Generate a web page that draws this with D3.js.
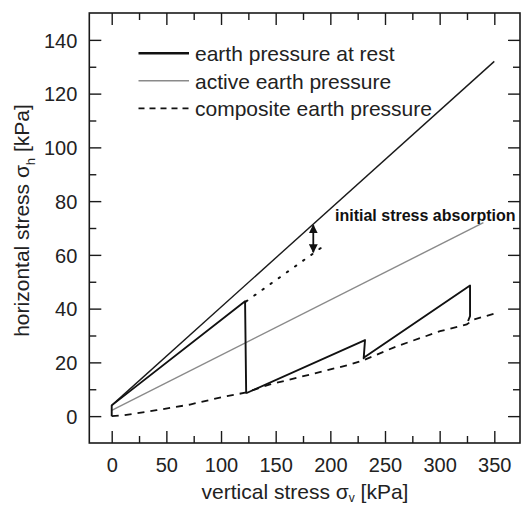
<!doctype html>
<html>
<head>
<meta charset="utf-8">
<script src="https://d3js.org/d3.v7.min.js"></script>
<style>
  body { margin: 0; background: #fff; }
  svg { display: block; font-family: "Liberation Sans", Arial, sans-serif; }
  .frame { fill: none; stroke: #1a1a1a; stroke-width: 1.6px; }
  .axis path { display: none; }
  .axis line { stroke: #1a1a1a; stroke-width: 1.4px; }
  .axis text { font-size: 20px; fill: #222; font-family: "Liberation Sans", Arial, sans-serif; }
</style>
</head>
<body>
<svg width="521" height="506"></svg>
<script>
// tick values
var xMajor = [0, 50, 100, 150, 200, 250, 300, 350],
    xMinor = [25, 75, 125, 175, 225, 275, 325],
    yMajor = [0, 20, 40, 60, 80, 100, 120, 140],
    yMinor = [10, 30, 50, 70, 90, 110, 130];

// earth pressure at rest (K0 line)
var restV = [0, 350],
    restH = [4, 132];

// active earth pressure
var activeV = [0, 340],
    activeH = [2.1, 72];

// measured path: loading / unloading steps
var stepV = [0, 0, 122, 123, 124, 231.7, 230.5, 230.5, 327.8, 327.8, 326],
    stepH = [0, 4, 42.7, 8.7, 8.7, 28.3, 21.5, 21.7, 48.6, 37.2, 35.4];

// composite earth pressure
var compV = [0, 10.6, 41, 71.6, 102, 122, 144.8, 187.6, 218, 230.2, 260.8, 300.4, 324.8, 330.8, 352.2],
    compH = [0, 0.3, 2.2, 4.3, 7.2, 8.7, 11.8, 16.1, 19.2, 20.8, 26, 31.6, 34.1, 35.9, 38.4];

// continuation of first loading branch (dotted)
var dotV = [123, 197],
    dotH = [42.7, 64.2];

// initial stress absorption arrow
var arrowV = 184.4,
    arrowH = [71.4, 60.6];

var legendNames = ["earth pressure at rest", "active earth pressure", "composite earth pressure"];

var svg = d3.select("svg");
var pLeft = 89.3, pRight = 520, pTop = 13, pBottom = 443;

var x = d3.scaleLinear().domain([-20.5, 373.5]).range([pLeft, pRight]);
var y = d3.scaleLinear().domain([-10, 150]).range([pBottom, pTop]);

function pts(vs, hs) { return vs.map(function (v, i) { return [v, hs[i]]; }); }
var line = d3.line().x(function (d) { return x(d[0]); }).y(function (d) { return y(d[1]); });

// ticks, all pointing inward
function tickAxis(axis, tr, vals, size, labels) {
  var g = svg.append("g").attr("class", "axis").attr("transform", tr)
    .call(axis.tickValues(vals).tickSizeInner(size).tickSizeOuter(0).tickPadding(0)
      .tickFormat(labels ? d3.format("d") : ""));
  return g;
}
var bx = tickAxis(d3.axisBottom(x), "translate(0," + pBottom + ")", xMajor, -12, true);
bx.selectAll("text").attr("y", 29).attr("dy", 0);
tickAxis(d3.axisBottom(x), "translate(0," + pBottom + ")", xMinor, -7, false);
tickAxis(d3.axisTop(x), "translate(0," + pTop + ")", xMajor, -12, false);
tickAxis(d3.axisTop(x), "translate(0," + pTop + ")", xMinor, -7, false);

var ly = tickAxis(d3.axisLeft(y), "translate(" + pLeft + ",0)", yMajor, -12, true);
ly.selectAll("text").attr("x", -12).attr("dy", "0.36em");
tickAxis(d3.axisLeft(y), "translate(" + pLeft + ",0)", yMinor, -7, false);
tickAxis(d3.axisRight(y), "translate(" + pRight + ",0)", yMajor, -12, false);
tickAxis(d3.axisRight(y), "translate(" + pRight + ",0)", yMinor, -7, false);

svg.append("rect").attr("class", "frame")
  .attr("x", pLeft).attr("y", pTop).attr("width", pRight - pLeft).attr("height", pBottom - pTop);

// curves
svg.append("path").datum(pts(activeV, activeH)).attr("d", line)
  .attr("fill", "none").attr("stroke", "#8a8a8a").attr("stroke-width", 1.4);
svg.append("path").datum(pts(restV, restH)).attr("d", line)
  .attr("fill", "none").attr("stroke", "#1a1a1a").attr("stroke-width", 1.4);
svg.append("path").datum(pts(compV, compH)).attr("d", line)
  .attr("fill", "none").attr("stroke", "#111").attr("stroke-width", 1.8).attr("stroke-dasharray", "7,6");
svg.append("path").datum(pts(stepV, stepH)).attr("d", line)
  .attr("fill", "none").attr("stroke", "#111").attr("stroke-width", 1.9).attr("stroke-linejoin", "round");
svg.append("path").datum(pts(dotV, dotH)).attr("d", line)
  .attr("fill", "none").attr("stroke", "#111").attr("stroke-width", 2)
  .attr("stroke-dasharray", "1.5,8.5").attr("stroke-linecap", "round");

// double-headed arrow
var defs = svg.append("defs");
defs.append("marker").attr("id", "ah").attr("viewBox", "0 0 10 10")
  .attr("refX", 9).attr("refY", 5).attr("markerWidth", 5).attr("markerHeight", 5)
  .attr("orient", "auto-start-reverse")
  .append("path").attr("d", "M0,0 L10,5 L0,10 Z").attr("fill", "#111");
svg.append("line")
  .attr("x1", x(arrowV)).attr("y1", y(arrowH[0]) + 1)
  .attr("x2", x(arrowV)).attr("y2", y(arrowH[1]) - 1)
  .attr("stroke", "#111").attr("stroke-width", 1.8)
  .attr("marker-start", "url(#ah)").attr("marker-end", "url(#ah)");

svg.append("text").attr("x", 335).attr("y", 221)
  .attr("font-size", "16px").attr("font-weight", "bold").attr("fill", "#111")
  .text("initial stress absorption");

// legend
var legendStyles = [
  { stroke: "#111", width: 2.4, dash: null },
  { stroke: "#8a8a8a", width: 1.4, dash: null },
  { stroke: "#111", width: 1.8, dash: "6,5" }
];
var legendY = [53.3, 80.7, 108.3];
legendNames.forEach(function (name, i) {
  var s = legendStyles[i];
  svg.append("line").attr("x1", 138.5).attr("x2", 189).attr("y1", legendY[i]).attr("y2", legendY[i])
    .attr("stroke", s.stroke).attr("stroke-width", s.width).attr("stroke-dasharray", s.dash);
  svg.append("text").attr("x", 195).attr("y", legendY[i] + 8)
    .attr("font-size", "21px").attr("fill", "#222").text(name);
});

// axis titles
var xt = svg.append("text").attr("x", 305).attr("y", 499).attr("text-anchor", "middle")
  .attr("font-size", "21px").attr("fill", "#222");
xt.append("tspan").text("vertical stress σ");
xt.append("tspan").attr("font-size", "12px").attr("dy", 3).text("v");
xt.append("tspan").attr("dy", -3).text(" [kPa]");

var yt = svg.append("text").attr("transform", "translate(29,220.5) rotate(-90)")
  .attr("text-anchor", "middle").attr("font-size", "21px").attr("fill", "#222");
yt.append("tspan").text("horizontal stress σ");
yt.append("tspan").attr("font-size", "13px").attr("dy", 6).text("h");
yt.append("tspan").attr("dy", -6).text(" [kPa]");
</script>
</body>
</html>
